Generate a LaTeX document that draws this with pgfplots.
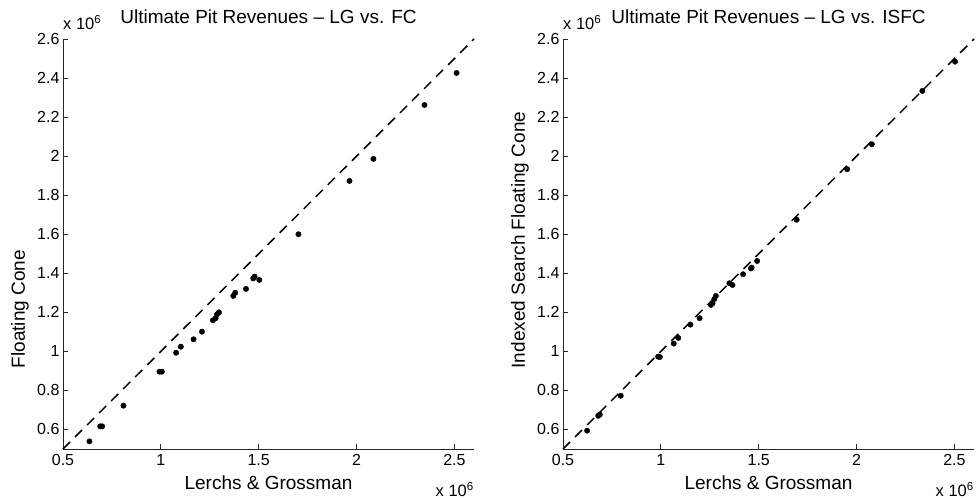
\documentclass[border=0pt]{standalone}
\usepackage{pgfplots}
\pgfplotsset{compat=1.18}
\usepackage{fontspec}
\setmainfont{Liberation Sans}
\pgfplotstableread{
x y
0.635 0.539
0.690 0.616
0.700 0.616
0.809 0.722
0.993 0.896
1.005 0.896
1.078 0.993
1.102 1.024
1.167 1.062
1.210 1.101
1.266 1.159
1.280 1.170
1.287 1.190
1.297 1.200
1.370 1.284
1.380 1.300
1.435 1.320
1.472 1.374
1.479 1.383
1.503 1.366
1.703 1.600
1.964 1.873
2.086 1.986
2.347 2.262
2.511 2.426
}\fcdata
\pgfplotstableread{
x y
0.623 0.594
0.680 0.670
0.688 0.676
0.795 0.773
0.986 0.973
0.995 0.971
1.066 1.040
1.089 1.069
1.151 1.137
1.198 1.170
1.256 1.238
1.264 1.246
1.273 1.268
1.281 1.284
1.350 1.349
1.366 1.340
1.420 1.395
1.460 1.425
1.464 1.429
1.492 1.463
1.694 1.674
1.952 1.933
2.078 2.061
2.336 2.334
2.503 2.484
}\isfcdata
\pgfplotsset{
  myax/.style={
    anchor=south west, scale only axis, clip=false,
    width=411pt, height=410pt,
    xmin=0.5, xmax=2.6, ymin=0.5, ymax=2.6,
    axis x line*=bottom, axis y line*=left,
    tick align=inside, major tick length=5pt,
    xtick={0.5,1,1.5,2,2.5},
    ytick={0.6,0.8,1,1.2,1.4,1.6,1.8,2,2.2,2.4,2.6},
    scaled ticks=false,
    axis line style={line width=1pt, color=black!85},
    tick style={line width=0.9pt, color=black!85},
    /pgf/number format/assume math mode=true,
    ticklabel style={font=\fontsize{16}{18}\selectfont},
    xticklabel style={yshift=-1.5pt},
    label style={font=\fontsize{19}{22}\selectfont},
    title style={font=\fontsize{19}{22}\selectfont, at={(0.5,1)}, anchor=center, yshift=16pt},
    xlabel style={at={(0.5,0)}, anchor=center, yshift=-34pt},
    ylabel style={at={(-0.105,0.188)}, anchor=west},
  },
  dots/.style={only marks, mark=*, mark size=2.7pt, color=black},
  diag/.style={black, dashed, dash pattern=on 10pt off 7pt, line width=1.5pt},
}
\begin{document}
\begin{tikzpicture}
\useasboundingbox (0pt,0pt) rectangle (976pt,499pt);
\begin{axis}[myax, at={(63pt,50pt)},
  title={Ultimate Pit Revenues -- LG vs. FC},
  xlabel={Lerchs \& Grossman}, ylabel={Floating Cone}]
  \addplot[diag] coordinates {(0.5,0.5) (2.6,2.6)};
  \addplot[dots] table[x=x,y=y] {\fcdata};
  \node[anchor=south west, font=\fontsize{16.5}{18}\selectfont, inner sep=0pt] at (rel axis cs:0,1) [yshift=9pt] {x 10\textsuperscript{6}};
  \node[anchor=north east, font=\fontsize{16.5}{18}\selectfont, inner sep=0pt] at (rel axis cs:1,0) [yshift=-33pt] {x 10\textsuperscript{6}};
\end{axis}
\begin{axis}[myax, at={(563pt,50pt)},
  title={Ultimate Pit Revenues -- LG vs. ISFC},
  xlabel={Lerchs \& Grossman}, ylabel={Indexed Search Floating Cone}]
  \addplot[diag] coordinates {(0.5,0.5) (2.6,2.6)};
  \addplot[dots] table[x=x,y=y] {\isfcdata};
  \node[anchor=south west, font=\fontsize{16.5}{18}\selectfont, inner sep=0pt] at (rel axis cs:0,1) [yshift=9pt] {x 10\textsuperscript{6}};
  \node[anchor=north east, font=\fontsize{16.5}{18}\selectfont, inner sep=0pt] at (rel axis cs:1,0) [yshift=-33pt] {x 10\textsuperscript{6}};
\end{axis}
\end{tikzpicture}
\end{document}
